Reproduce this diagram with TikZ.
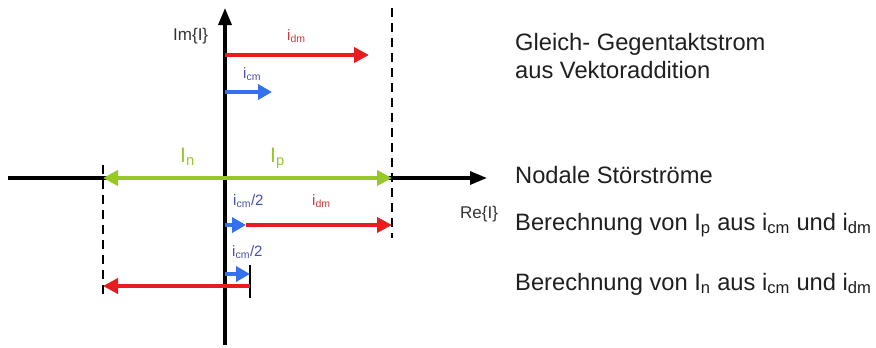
\documentclass[tikz,border=0pt]{standalone}
\usepackage{fontspec}
\setmainfont{Liberation Sans}
\usetikzlibrary{arrows.meta}
\definecolor{vred}{RGB}{232,28,30}
\definecolor{vblue}{RGB}{52,112,240}
\definecolor{vgreen}{RGB}{150,200,40}
\definecolor{lblred}{RGB}{200,60,60}
\definecolor{lblblue}{RGB}{70,80,170}
\newcommand{\mysb}[1]{\textsubscript{#1}}
\tikzset{
  axis/.style={line width=3.2pt,-{Triangle[length=17pt,width=13pt]}},
  redvec/.style={vred,line width=4.5pt,-{Triangle[length=15pt,width=15pt]}},
  bluevec/.style={vblue,line width=4pt,-{Triangle[length=14pt,width=15pt]}},
  greenvec/.style={vgreen,line width=4.5pt,{Triangle[length=15pt,width=15pt]}-{Triangle[length=15pt,width=15pt]}},
  guide/.style={black,line width=2pt,dash pattern=on 9pt off 6pt},
  tick/.style={black,line width=2pt},
  txt/.style={anchor=base west,inner sep=0pt,font=\fontsize{23.7}{26}\selectfont,text=black!88},
  axlbl/.style={anchor=base west,inner sep=0pt,font=\fontsize{17}{19}\selectfont,text=black!80},
  smallred/.style={anchor=base west,inner sep=0pt,font=\fontsize{15}{17}\selectfont,text=lblred},
  smallblue/.style={anchor=base west,inner sep=0pt,font=\fontsize{15}{17}\selectfont,text=lblblue},
  greenlbl/.style={anchor=base west,inner sep=0pt,font=\fontsize{21}{24}\selectfont,text=vgreen}
}
\begin{document}
\begin{tikzpicture}[x=1pt,y=-1pt]
\useasboundingbox (0,0) rectangle (876,348);
% coordinates
\coordinate (vb) at (225,345);
\coordinate (vt) at (225,8);
\coordinate (hl) at (8,178);
\coordinate (hr) at (487,178);
\coordinate (dRt) at (392,8);
\coordinate (dRb) at (392,238);
\coordinate (dLt) at (103,165);
\coordinate (dLb) at (103,298);
\coordinate (r1s) at (225,55);
\coordinate (r1e) at (369,55);
\coordinate (b1s) at (225,92);
\coordinate (b1e) at (272,92);
\coordinate (gL) at (103,178);
\coordinate (gR) at (392,178);
\coordinate (b2s) at (225,225);
\coordinate (b2e) at (246,225);
\coordinate (r2e) at (392,225);
\coordinate (b3s) at (225,274);
\coordinate (b3e) at (250,274);
\coordinate (r3s) at (250,286);
\coordinate (r3e) at (103,286);
\coordinate (tkt) at (250,265);
\coordinate (tkb) at (250,298);
% guides
\draw[guide] (dRt) -- (dRb);
\draw[guide] (dLt) -- (dLb);
\draw[tick] (tkt) -- (tkb);
% axes
\draw[axis] (hl) -- (hr);
\draw[axis] (vb) -- (vt);
% vectors
\draw[redvec] (r1s) -- (r1e);
\draw[bluevec] (b1s) -- (b1e);
\draw[greenvec] (gL) -- (gR);
\draw[redvec] (b2e) -- (r2e);
\draw[bluevec] (b2s) -- (b2e);
\draw[redvec] (r3s) -- (r3e);
\draw[bluevec] (b3s) -- (b3e);
% labels
\node[axlbl] (im) at (173,40) {Im\{I\}};
\node[axlbl] (re) at (460,218) {Re\{I\}};
\node[smallred] (l1) at (287,40) {i\mysb{dm}};
\node[smallblue] (l2) at (243,78) {i\mysb{cm}};
\node[greenlbl] (ln) at (180,162) {I\mysb{n}};
\node[greenlbl] (lp) at (270,162) {I\mysb{p}};
\node[smallblue] (l3) at (233,205) {i\mysb{cm}/2};
\node[smallred] (l4) at (312,205) {i\mysb{dm}};
\node[smallblue] (l5) at (232,256) {i\mysb{cm}/2};
% right texts
\node[txt] (t1) at (515,50) {Gleich- Gegentaktstrom};
\node[txt] (t2) at (515,78) {aus Vektoraddition};
\node[txt] (t3) at (515,183) {Nodale Störströme};
\node[txt] (t4) at (515,230) {Berechnung von I\mysb{p} aus i\mysb{cm} und i\mysb{dm}};
\node[txt] (t5) at (515,290) {Berechnung von I\mysb{n} aus i\mysb{cm} und i\mysb{dm}};
\end{tikzpicture}
\end{document}
